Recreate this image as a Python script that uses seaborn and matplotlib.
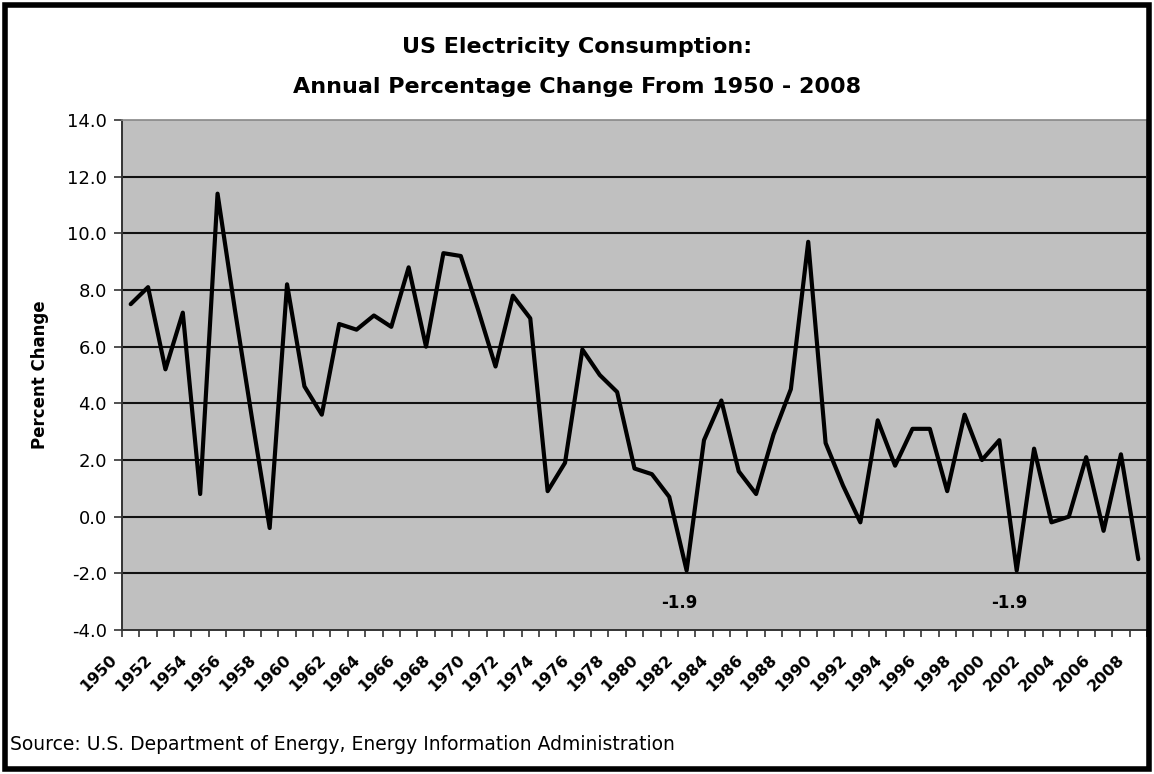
import matplotlib
matplotlib.use("Agg")
import matplotlib.pyplot as plt
import matplotlib.transforms as mtransforms
from matplotlib.patches import Rectangle
from matplotlib.ticker import FixedLocator
import numpy as np
import pandas as pd
import seaborn as sns

# Annual percentage change in US electricity consumption, 1950-2008
years = list(range(1950, 2009))
pct_change = [
    7.5, 8.1, 5.2, 7.2, 0.8, 11.4, 7.3, 3.4, -0.4, 8.2,
    4.6, 3.6, 6.8, 6.6, 7.1, 6.7, 8.8, 6.0, 9.3, 9.2,
    7.3, 5.3, 7.8, 7.0, 0.9, 1.9, 5.9, 5.0, 4.4, 1.7,
    1.5, 0.7, -1.9, 2.7, 4.1, 1.6, 0.8, 2.9, 4.5, 9.7,
    2.6, 1.1, -0.2, 3.4, 1.8, 3.1, 3.1, 0.9, 3.6, 2.0,
    2.7, -1.9, 2.4, -0.2, 0.0, 2.1, -0.5, 2.2, -1.5,
]
tick_years = list(range(1950, 2009, 2))
y_ticks = [-4.0, -2.0, 0.0, 2.0, 4.0, 6.0, 8.0, 10.0, 12.0, 14.0]
labelled_years = [1982, 2001]

df = pd.DataFrame({"Year": years, "Change": pct_change})

sns.set_style("white")
plt.rcParams["font.family"] = ["DejaVu Sans"]
plt.rcParams["text.color"] = "black"
plt.rcParams["axes.labelcolor"] = "black"
plt.rcParams["xtick.color"] = "black"
plt.rcParams["ytick.color"] = "black"

fig = plt.figure(figsize=(11.54, 7.74), dpi=100)
ax = fig.add_axes([122 / 1154, 144 / 774, 1025 / 1154, 510 / 774])
ax.set_facecolor("#c0c0c0")

# horizontal grid lines
for v in y_ticks[1:-1]:
    ax.axhline(v, color="#111111", lw=1.5, zorder=1)

sns.lineplot(data=df, x="Year", y="Change", ax=ax, color="black",
             linewidth=3.0, zorder=3, legend=False)

ax.set_xlim(1949.5, 2008.5)
ax.set_ylim(-4.0, 14.0)

ax.set_yticks(y_ticks)
ax.set_yticklabels([f"{v:.1f}" for v in y_ticks], fontsize=13)
ax.set_xticks(tick_years)
ax.set_xticklabels([str(y) for y in tick_years], rotation=45, ha="right",
                   va="center", rotation_mode="anchor", fontsize=11.5,
                   fontweight="bold")
ax.xaxis.set_minor_locator(FixedLocator(np.arange(1949.5, 2009, 1.0)))
ax.tick_params(axis="x", which="major", length=0, pad=0)
ax.tick_params(axis="x", which="minor", length=5, width=1.2, color="#333333",
               direction="out", bottom=True)
ax.tick_params(axis="y", length=6, width=1.2, color="#333333",
               labelcolor="black", direction="out", left=True, pad=5)

# year labels sit below and to the left of their category
shift = mtransforms.ScaledTranslation(-16 / 100, -27 / 100, fig.dpi_scale_trans)
for lbl in ax.get_xticklabels():
    lbl.set_transform(lbl.get_transform() + shift)
    lbl.set_color("black")

for side in ("left", "bottom"):
    ax.spines[side].set_color("#333333")
    ax.spines[side].set_linewidth(1.4)
for side in ("top", "right"):
    ax.spines[side].set_color("#888888")
    ax.spines[side].set_linewidth(1.2)

ax.set_xlabel("")
ax.set_ylabel("Percent Change", fontsize=12, fontweight="bold", labelpad=13,
              color="black")

# value labels under the two lowest points
for yr in labelled_years:
    val = pct_change[years.index(yr)]
    ax.annotate(f"{val:.1f}", xy=(yr, val), xytext=(-5, -23.5),
                textcoords="offset points", ha="center", va="center",
                fontsize=12, fontweight="bold", color="black")

fig.text(0.5, 1 - 47 / 774, "US Electricity Consumption:", ha="center",
         va="center", fontsize=16, fontweight="bold", color="black")
fig.text(0.5, 1 - 87 / 774, "Annual Percentage Change From 1950 - 2008",
         ha="center", va="center", fontsize=16, fontweight="bold",
         color="black")
fig.text(10 / 1154, 1 - 745 / 774,
         "Source: U.S. Department of Energy, Energy Information Administration",
         ha="left", va="center", fontsize=13.5, color="black")

fig.patches.append(Rectangle((0.0045, 0.006), 0.991, 0.988, fill=False,
                             edgecolor="black", linewidth=4,
                             transform=fig.transFigure, figure=fig))

fig.savefig("out.png", dpi=100, facecolor="white")
